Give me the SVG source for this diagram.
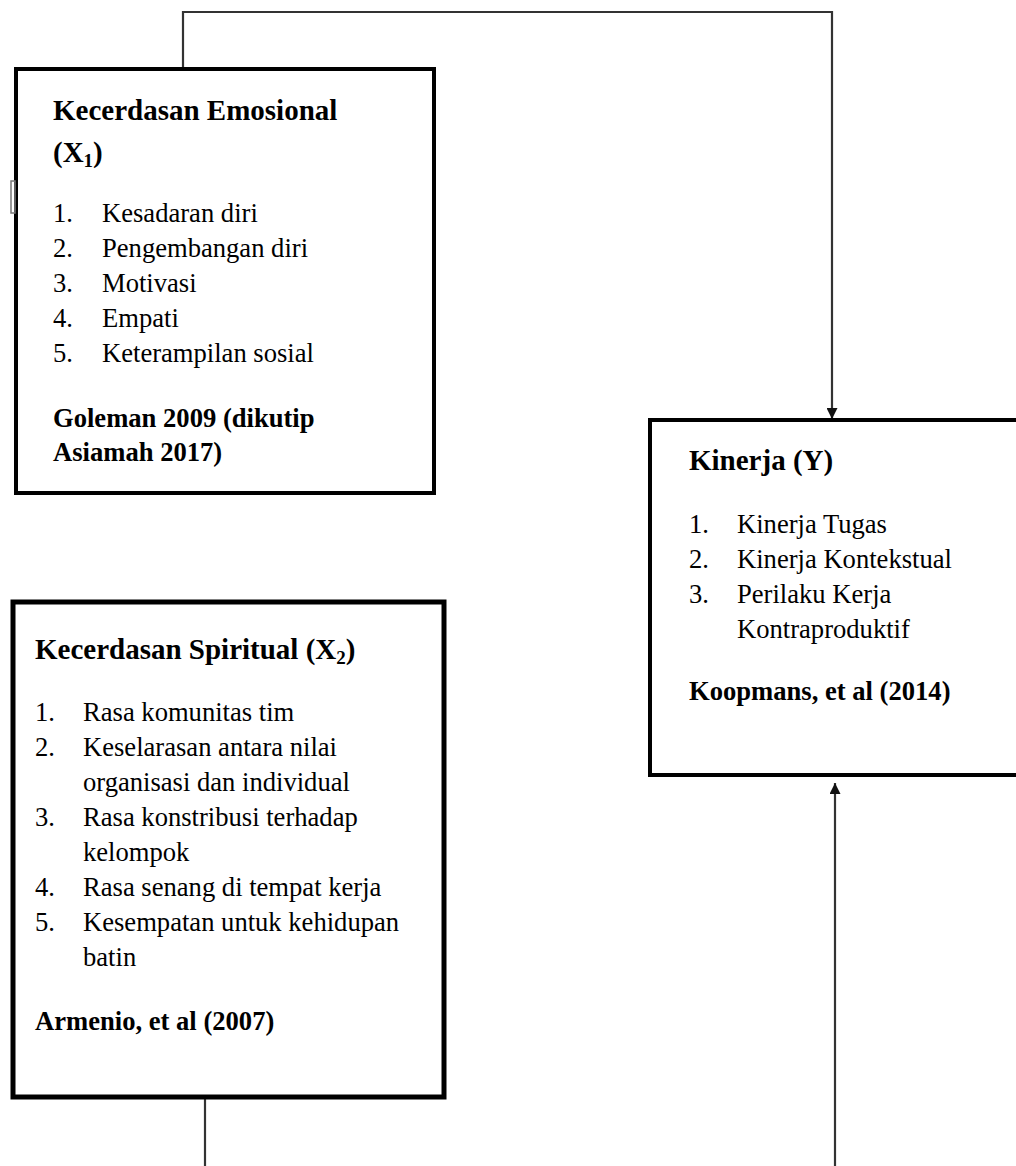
<svg xmlns="http://www.w3.org/2000/svg" width="1016" height="1166" viewBox="0 0 1016 1166">
<defs>
<style>
.box{fill:#fff;stroke:#000;}
.t{font-family:"Liberation Serif","Times New Roman",serif;font-size:26.6px;fill:#000;}
.h{font-family:"Liberation Serif","Times New Roman",serif;font-size:29px;font-weight:bold;fill:#000;}
.b{font-weight:bold;}
.sub{font-size:19px;}
.conn{fill:none;stroke:#333;stroke-width:2.2;}
</style>
<marker id="arr" viewBox="0 0 10 10" refX="10" refY="5" markerWidth="5" markerHeight="5" orient="auto" markerUnits="strokeWidth">
<path d="M0,0 L10,5 L0,10 z" fill="#111"/>
</marker>
</defs>
<rect width="1016" height="1166" fill="#fff"/>
<g id="connectors">
<path class="conn" d="M183,69 V12 H832 V419" marker-end="url(#arr)"/>
<path class="conn" d="M205,1097 V1190 H835 V783" marker-end="url(#arr)"/>
</g>
<g id="node-x1">
<rect class="box" x="16" y="69" width="418" height="424" stroke-width="4"/>
<text class="h" x="53" y="120">Kecerdasan Emosional</text>
<text class="h" x="53" y="162">(X<tspan class="sub" dy="5">1</tspan><tspan dy="-5">)</tspan></text>
<text class="t"><tspan x="53" y="222">1.</tspan><tspan x="102" y="222">Kesadaran diri</tspan></text>
<text class="t"><tspan x="53" y="257">2.</tspan><tspan x="102" y="257">Pengembangan diri</tspan></text>
<text class="t"><tspan x="53" y="292">3.</tspan><tspan x="102" y="292">Motivasi</tspan></text>
<text class="t"><tspan x="53" y="327">4.</tspan><tspan x="102" y="327">Empati</tspan></text>
<text class="t"><tspan x="53" y="362">5.</tspan><tspan x="102" y="362">Keterampilan sosial</tspan></text>
<text class="t b" x="53" y="427">Goleman 2009 (dikutip</text>
<text class="t b" x="53" y="461">Asiamah 2017)</text>
<rect x="11" y="181" width="4" height="32" fill="none" stroke="#777" stroke-width="1.5"/>
</g>
<g id="node-x2">
<rect class="box" x="13" y="602" width="431" height="495" stroke-width="5"/>
<text class="h" x="35" y="659">Kecerdasan Spiritual (X<tspan class="sub" dy="5">2</tspan><tspan dy="-5">)</tspan></text>
<text class="t"><tspan x="35" y="721">1.</tspan><tspan x="83" y="721">Rasa komunitas tim</tspan></text>
<text class="t"><tspan x="35" y="756">2.</tspan><tspan x="83" y="756">Keselarasan antara nilai</tspan></text>
<text class="t" x="83" y="791">organisasi dan individual</text>
<text class="t"><tspan x="35" y="826">3.</tspan><tspan x="83" y="826">Rasa konstribusi terhadap</tspan></text>
<text class="t" x="83" y="861">kelompok</text>
<text class="t"><tspan x="35" y="896">4.</tspan><tspan x="83" y="896">Rasa senang di tempat kerja</tspan></text>
<text class="t"><tspan x="35" y="931">5.</tspan><tspan x="83" y="931">Kesempatan untuk kehidupan</tspan></text>
<text class="t" x="83" y="966">batin</text>
<text class="t b" x="35" y="1030">Armenio, et al (2007)</text>
</g>
<g id="node-y">
<rect class="box" x="650" y="420" width="380" height="355" stroke-width="4"/>
<text class="h" x="689" y="470">Kinerja (Y)</text>
<text class="t"><tspan x="689" y="533">1.</tspan><tspan x="737" y="533">Kinerja Tugas</tspan></text>
<text class="t"><tspan x="689" y="568">2.</tspan><tspan x="737" y="568">Kinerja Kontekstual</tspan></text>
<text class="t"><tspan x="689" y="603">3.</tspan><tspan x="737" y="603">Perilaku Kerja</tspan></text>
<text class="t" x="737" y="638">Kontraproduktif</text>
<text class="t b" x="689" y="700">Koopmans, et al (2014)</text>
</g>
</svg>
